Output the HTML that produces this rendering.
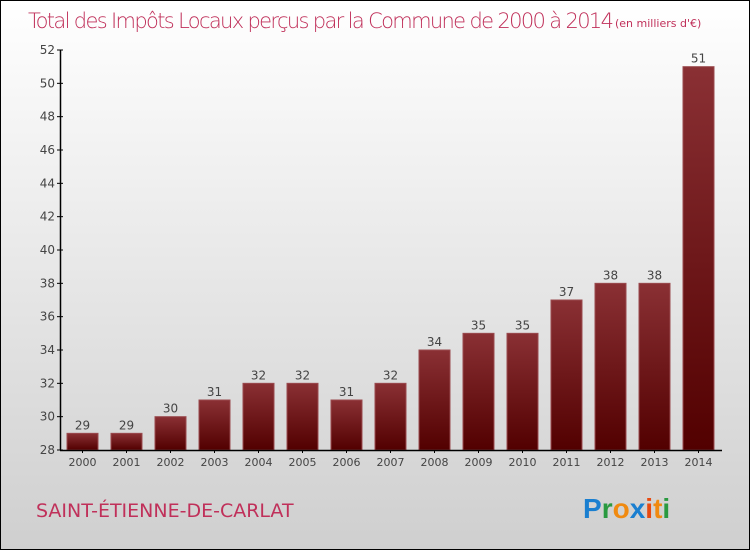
<!DOCTYPE html>
<html><head><meta charset="utf-8"><style>
body{margin:0}
#wrap{width:748px;height:548px;border:1px solid #000;background:linear-gradient(#fff,#cfcfcf);position:relative;font-family:"DejaVu Sans","Liberation Sans",sans-serif;overflow:hidden}
</style></head><body>
<div id="wrap">
<svg width="748" height="548">
<defs><linearGradient id="bg" x1="0" y1="0" x2="0" y2="1"><stop offset="0" stop-color="#8a3034"/><stop offset="1" stop-color="#520000"/></linearGradient></defs>
<text x="27" y="27" font-size="21" fill="#c0305a" font-family="DejaVu Sans,sans-serif" font-weight="200" textLength="586">Total des Impôts Locaux perçus par la Commune de 2000 à 2014</text>
<text x="614" y="26" font-size="11" fill="#c0305a">(en milliers d'€)</text>
<g id="plot"></g>
<text x="35" y="516" font-size="19" fill="#c0305a">SAINT-ÉTIENNE-DE-CARLAT</text>
<g font-size="28" font-family="Liberation Sans,sans-serif" font-weight="bold">
<text x="582" y="517"><tspan fill="#1a7fd0">P</tspan><tspan fill="#2a9a40">r</tspan><tspan fill="#f08a10">o</tspan><tspan fill="#1a7fd0">x</tspan><tspan fill="#e84a10">i</tspan><tspan fill="#f08a10">t</tspan><tspan fill="#2a9a40">i</tspan></text></g>
</svg></div>
<script>
const years=["2000","2001","2002","2003","2004","2005","2006","2007","2008","2009","2010","2011","2012","2013","2014"];
const values=[29,29,30,31,32,32,31,32,34,35,35,37,38,38,51];
const yTicks=[28,30,32,34,36,38,40,42,44,46,48,50,52];
const NS="http://www.w3.org/2000/svg";
const g=document.getElementById('plot');
const y0=449,yMin=28,yMax=52,yTop=49;
const yS=v=>y0-(v-yMin)*(y0-yTop)/(yMax-yMin);
const xS=i=>81.5+i*44;
function mk(t,a,txt){const e=document.createElementNS(NS,t);for(const k in a)e.setAttribute(k,a[k]);if(txt!==undefined)e.textContent=txt;g.appendChild(e);return e;}
values.forEach((v,i)=>{
 const r=mk('rect',{x:xS(i)-15.5,y:yS(v),width:31,height:y0-yS(v),fill:'url(#bg)',stroke:'#9a4a4e','stroke-width':1});
 
 
 const t=mk('text',{x:xS(i),y:yS(v)-4,'text-anchor':'middle','font-size':12,fill:'#444'},v);
 
 
 const l=mk('text',{x:xS(i),y:y0+16,'text-anchor':'middle','font-size':11,fill:'#444'},years[i]);
 
 
 mk('line',{x1:xS(i),x2:xS(i),y1:y0,y2:y0+3,stroke:'#000'});
});
yTicks.forEach(v=>{
 mk('line',{x1:56,x2:62,y1:yS(v),y2:yS(v),stroke:'#000'});
 const t=mk('text',{x:54,y:yS(v)+4,'text-anchor':'end','font-size':12,fill:'#444'},v);
 
 
});
const ya=mk('line',{x1:59.5,x2:59.5,y1:yTop,y2:y0,stroke:'#000','stroke-width':1.5});


const xa=mk('line',{x1:59,x2:721,y1:y0+0.5,y2:y0+0.5,stroke:'#000','stroke-width':1.5});


</script>
</body></html>
